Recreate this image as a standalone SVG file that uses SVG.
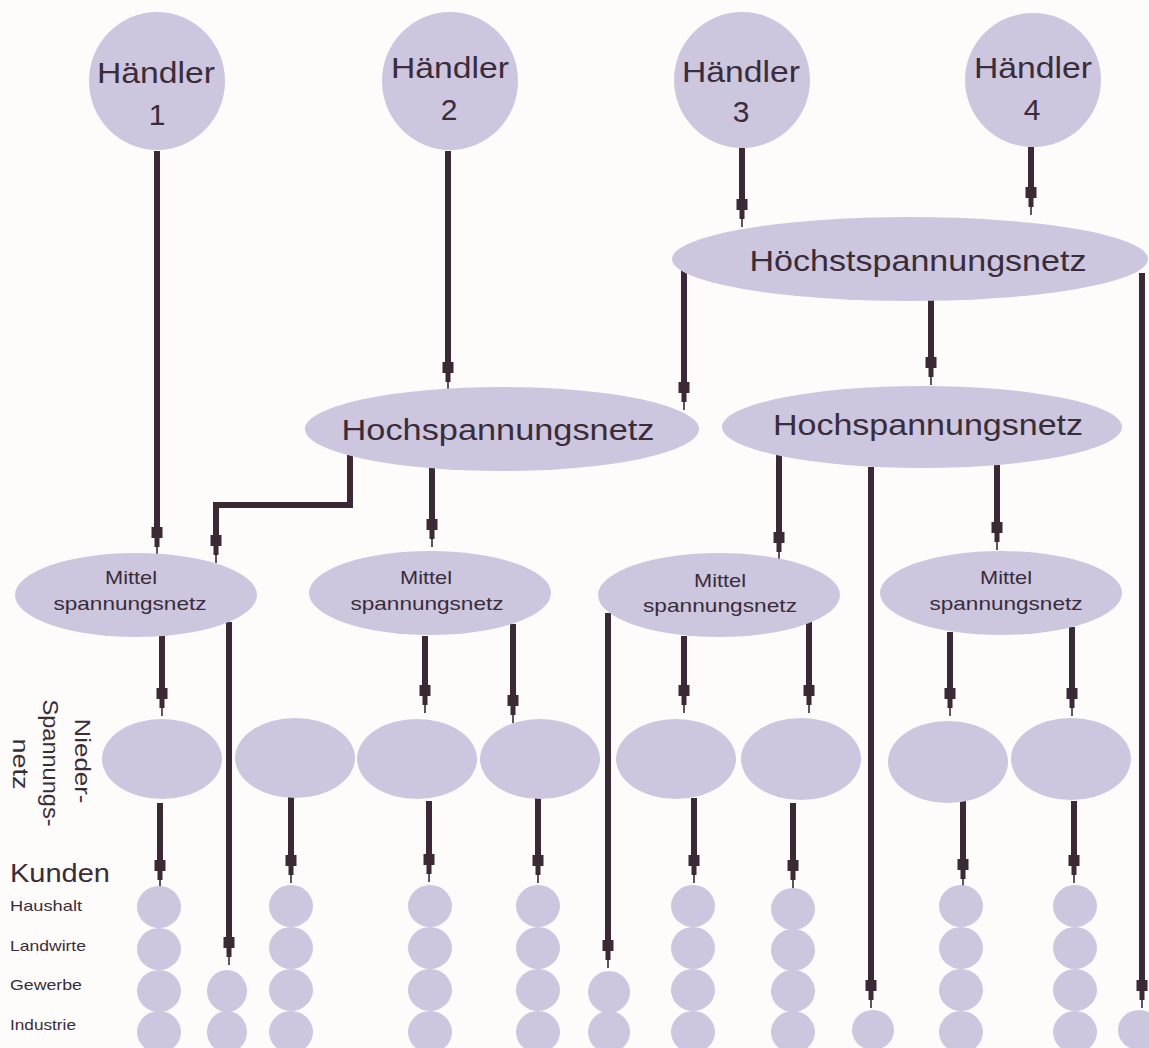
<svg xmlns="http://www.w3.org/2000/svg" width="1149" height="1048" viewBox="0 0 1149 1048">
<style>
.n{fill:#ccc6df}
.t{font-family:"Liberation Sans",Arial,sans-serif;fill:#3a2c38;text-anchor:middle}
.big{font-size:30px}
.mid{font-size:19px}
.lab{font-family:"Liberation Sans",Arial,sans-serif;fill:#3a2c38}
.c{fill:none;stroke:#3b2a36;stroke-width:6;marker-end:url(#ah)}
</style>
<defs>
<marker id="ah" markerUnits="userSpaceOnUse" markerWidth="30" markerHeight="14" refX="0" refY="7" orient="auto" overflow="visible">
<path d="M0,1.5 H11 V4.5 H20 V6.2 H28 V7.8 H20 V9.5 H11 V12.5 H0 Z" fill="#3b2a36"/>
</marker>
</defs>
<rect width="1149" height="1048" fill="#fdfcfb"/>

<g id="connectors">
<path class="c" d="M157 151 V527"/>
<path class="c" d="M448 151 V362"/>
<path class="c" d="M742 148 V199"/>
<path class="c" d="M1031 147 V187"/>
<path class="c" d="M684 270 V382"/>
<path class="c" d="M931 300 V357"/>
<path class="c" d="M1142 273 V980"/>
<path class="c" d="M350 455 V505 H216 V535"/>
<path class="c" d="M432 468 V519"/>
<path class="c" d="M779 455 V532"/>
<path class="c" d="M871 467 V980"/>
<path class="c" d="M997 465 V522"/>
<path class="c" d="M162 636 V688"/>
<path class="c" d="M229 622 V937"/>
<path class="c" d="M425 636 V685"/>
<path class="c" d="M513 624 V695"/>
<path class="c" d="M608 613 V940"/>
<path class="c" d="M684 636 V685"/>
<path class="c" d="M809 622 V685"/>
<path class="c" d="M950 632 V688"/>
<path class="c" d="M1072 627 V688"/>
<path class="c" d="M160 803 V860"/>
<path class="c" d="M291 797 V855"/>
<path class="c" d="M429 801 V854"/>
<path class="c" d="M538 798 V855"/>
<path class="c" d="M694 798 V855"/>
<path class="c" d="M793 803 V860"/>
<path class="c" d="M963 801 V859"/>
<path class="c" d="M1074 801 V855"/>
</g>

<g id="haendler1"><ellipse class="n" cx="157" cy="81" rx="68" ry="69"/>
<text class="t big" x="156" y="83" textLength="118" lengthAdjust="spacingAndGlyphs">Händler</text>
<text class="t big" x="157" y="125">1</text></g>
<g id="haendler2"><ellipse class="n" cx="450" cy="81" rx="68" ry="69"/>
<text class="t big" x="450" y="78" textLength="118" lengthAdjust="spacingAndGlyphs">Händler</text>
<text class="t big" x="449" y="120">2</text></g>
<g id="haendler3"><ellipse class="n" cx="742" cy="80" rx="68" ry="68"/>
<text class="t big" x="741" y="82" textLength="118" lengthAdjust="spacingAndGlyphs">Händler</text>
<text class="t big" x="741" y="122">3</text></g>
<g id="haendler4"><ellipse class="n" cx="1033" cy="80" rx="68" ry="67"/>
<text class="t big" x="1033" y="78" textLength="118" lengthAdjust="spacingAndGlyphs">Händler</text>
<text class="t big" x="1032" y="120">4</text></g>

<g id="hoechst"><ellipse class="n" cx="910" cy="259" rx="238" ry="42"/>
<text class="t big" x="918" y="271" textLength="337" lengthAdjust="spacingAndGlyphs">Höchstspannungsnetz</text></g>

<g id="hoch1"><ellipse class="n" cx="502" cy="429" rx="197" ry="42"/>
<text class="t big" x="498" y="440" textLength="313" lengthAdjust="spacingAndGlyphs">Hochspannungsnetz</text></g>
<g id="hoch2"><ellipse class="n" cx="922" cy="427" rx="200" ry="41"/>
<text class="t big" x="928" y="435" textLength="310" lengthAdjust="spacingAndGlyphs">Hochspannungsnetz</text></g>

<g id="mittel1"><ellipse class="n" cx="136" cy="595" rx="121" ry="42"/>
<text class="t mid" x="131" y="584" textLength="52" lengthAdjust="spacingAndGlyphs">Mittel</text>
<text class="t mid" x="130" y="610" textLength="153" lengthAdjust="spacingAndGlyphs">spannungsnetz</text></g>
<g id="mittel2"><ellipse class="n" cx="430" cy="593" rx="121" ry="42"/>
<text class="t mid" x="426" y="584" textLength="52" lengthAdjust="spacingAndGlyphs">Mittel</text>
<text class="t mid" x="427" y="610" textLength="153" lengthAdjust="spacingAndGlyphs">spannungsnetz</text></g>
<g id="mittel3"><ellipse class="n" cx="719" cy="595" rx="121" ry="42"/>
<text class="t mid" x="720" y="587" textLength="52" lengthAdjust="spacingAndGlyphs">Mittel</text>
<text class="t mid" x="720" y="612" textLength="154" lengthAdjust="spacingAndGlyphs">spannungsnetz</text></g>
<g id="mittel4"><ellipse class="n" cx="1001" cy="593" rx="121" ry="42"/>
<text class="t mid" x="1006" y="584" textLength="52" lengthAdjust="spacingAndGlyphs">Mittel</text>
<text class="t mid" x="1006" y="610" textLength="153" lengthAdjust="spacingAndGlyphs">spannungsnetz</text></g>

<g id="nieder1"><ellipse class="n" cx="162" cy="759" rx="60" ry="40"/></g>
<g id="nieder2"><ellipse class="n" cx="295" cy="758" rx="60" ry="40"/></g>
<g id="nieder3"><ellipse class="n" cx="417" cy="759" rx="60" ry="40"/></g>
<g id="nieder4"><ellipse class="n" cx="540" cy="759" rx="60" ry="40"/></g>
<g id="nieder5"><ellipse class="n" cx="676" cy="759" rx="60" ry="40"/></g>
<g id="nieder6"><ellipse class="n" cx="801" cy="759" rx="60" ry="41"/></g>
<g id="nieder7"><ellipse class="n" cx="948" cy="762" rx="60" ry="41"/></g>
<g id="nieder8"><ellipse class="n" cx="1071" cy="759" rx="60" ry="41"/></g>

<g id="label-nieder" class="lab" font-size="22" text-anchor="middle">
<text transform="translate(75,761) rotate(90)" textLength="85" lengthAdjust="spacingAndGlyphs">Nieder-</text>
<text transform="translate(43,763) rotate(90)" textLength="127" lengthAdjust="spacingAndGlyphs">Spannungs-</text>
<text transform="translate(13,764) rotate(90)" textLength="51" lengthAdjust="spacingAndGlyphs">netz</text>
</g>

<g id="label-kunden" class="lab">
<text x="10" y="882" font-size="26" textLength="100" lengthAdjust="spacingAndGlyphs">Kunden</text>
<text x="10" y="911" font-size="15" textLength="72" lengthAdjust="spacingAndGlyphs">Haushalt</text>
<text x="10" y="951" font-size="15" textLength="76" lengthAdjust="spacingAndGlyphs">Landwirte</text>
<text x="10" y="990" font-size="15" textLength="72" lengthAdjust="spacingAndGlyphs">Gewerbe</text>
<text x="10" y="1030" font-size="15" textLength="66" lengthAdjust="spacingAndGlyphs">Industrie</text>
</g>

<g id="kunden1"><ellipse class="n" cx="159" cy="907" rx="22" ry="21"/><ellipse class="n" cx="159" cy="949" rx="22" ry="21"/><ellipse class="n" cx="159" cy="991" rx="22" ry="21"/><ellipse class="n" cx="159" cy="1032" rx="22" ry="21"/></g>
<g id="kunden2"><ellipse class="n" cx="227" cy="991" rx="20" ry="21"/><ellipse class="n" cx="227" cy="1032" rx="20" ry="21"/></g>
<g id="kunden3"><ellipse class="n" cx="291" cy="906" rx="22" ry="21"/><ellipse class="n" cx="291" cy="948" rx="22" ry="21"/><ellipse class="n" cx="291" cy="990" rx="22" ry="21"/><ellipse class="n" cx="291" cy="1032" rx="22" ry="21"/></g>
<g id="kunden4"><ellipse class="n" cx="430" cy="906" rx="22" ry="21"/><ellipse class="n" cx="430" cy="948" rx="22" ry="21"/><ellipse class="n" cx="430" cy="990" rx="22" ry="21"/><ellipse class="n" cx="430" cy="1032" rx="22" ry="21"/></g>
<g id="kunden5"><ellipse class="n" cx="538" cy="906" rx="22" ry="21"/><ellipse class="n" cx="538" cy="948" rx="22" ry="21"/><ellipse class="n" cx="538" cy="990" rx="22" ry="21"/><ellipse class="n" cx="538" cy="1032" rx="22" ry="21"/></g>
<g id="kunden6"><ellipse class="n" cx="609" cy="992" rx="21" ry="21"/><ellipse class="n" cx="609" cy="1032" rx="21" ry="21"/></g>
<g id="kunden7"><ellipse class="n" cx="693" cy="906" rx="22" ry="21"/><ellipse class="n" cx="693" cy="948" rx="22" ry="21"/><ellipse class="n" cx="693" cy="990" rx="22" ry="21"/><ellipse class="n" cx="693" cy="1032" rx="22" ry="21"/></g>
<g id="kunden8"><ellipse class="n" cx="793" cy="909" rx="22" ry="21"/><ellipse class="n" cx="793" cy="950" rx="22" ry="21"/><ellipse class="n" cx="793" cy="991" rx="22" ry="21"/><ellipse class="n" cx="793" cy="1032" rx="22" ry="21"/></g>
<g id="kunden9"><ellipse class="n" cx="873" cy="1030" rx="21" ry="20"/></g>
<g id="kunden10"><ellipse class="n" cx="961" cy="906" rx="22" ry="21"/><ellipse class="n" cx="961" cy="948" rx="22" ry="21"/><ellipse class="n" cx="961" cy="990" rx="22" ry="21"/><ellipse class="n" cx="961" cy="1032" rx="22" ry="21"/></g>
<g id="kunden11"><ellipse class="n" cx="1075" cy="906" rx="22" ry="21"/><ellipse class="n" cx="1075" cy="948" rx="22" ry="21"/><ellipse class="n" cx="1075" cy="990" rx="22" ry="21"/><ellipse class="n" cx="1075" cy="1032" rx="22" ry="21"/></g>
<g id="kunden12"><ellipse class="n" cx="1139" cy="1030" rx="21" ry="20"/></g>
</svg>
